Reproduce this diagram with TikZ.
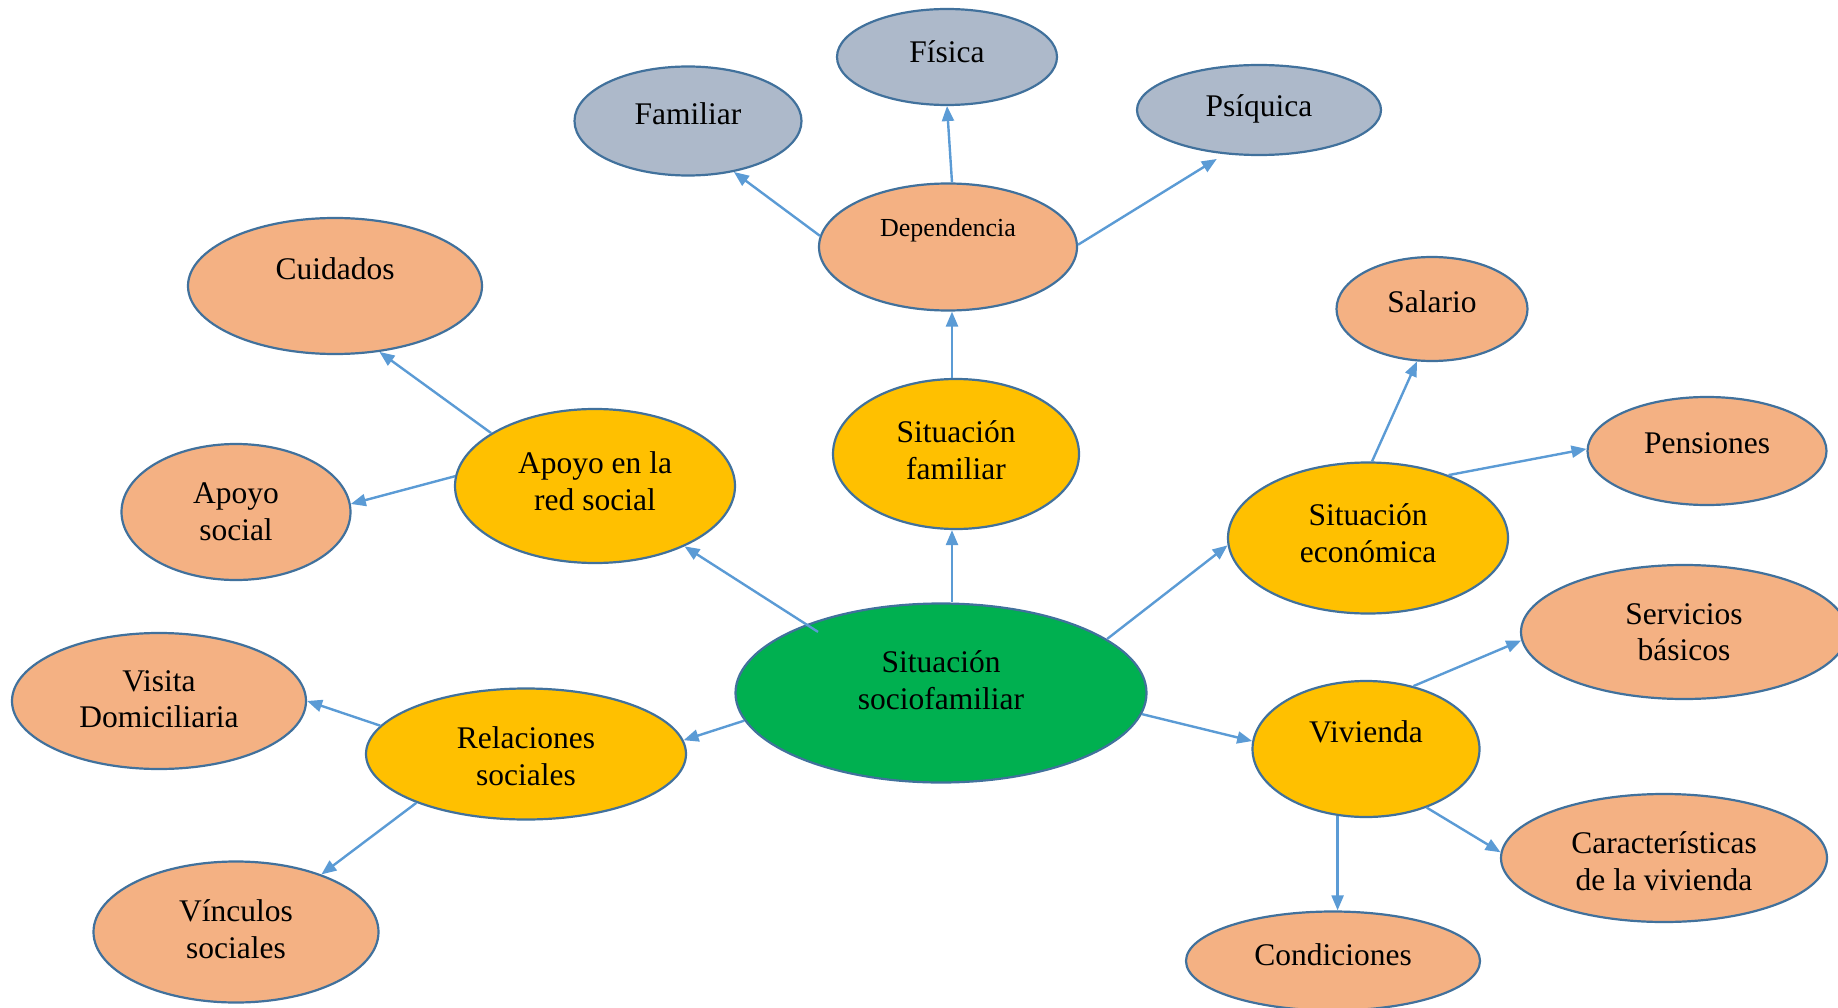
\documentclass[tikz,border=0pt]{standalone}
\usepackage{fontspec}
\setmainfont{Liberation Serif}
\usetikzlibrary{shapes.geometric,arrows.meta}

\definecolor{bordc}{HTML}{41719C}
\definecolor{arrc}{HTML}{5B9BD5}
\definecolor{peach}{HTML}{F4B183}
\definecolor{gold}{HTML}{FFC000}
\definecolor{leaf}{HTML}{00B050}
\definecolor{slate}{HTML}{ADB9CA}

\tikzset{
  bub/.style={ellipse, draw=bordc, line width=2.2pt, inner sep=0pt},
  peachbub/.style={bub, fill=peach},
  goldbub/.style={bub, fill=gold},
  slatebub/.style={bub, fill=slate},
  leafbub/.style={bub, fill=leaf},
  txt/.style={align=center, inner sep=0pt, font=\fontsize{31.5}{36.5}\selectfont},
  smalltxt/.style={align=center, inner sep=0pt, font=\fontsize{26}{30}\selectfont},
  arr/.style={draw=arrc, line width=2.4pt, -{Triangle[length=15pt,width=12pt]}}
}

\begin{document}
\begin{tikzpicture}[x=1pt,y=-1pt]
\clip (0,0) rectangle (1838,1008);
\useasboundingbox (0,0) rectangle (1838,1008);

% ellipses
\node[slatebub, minimum width=220pt, minimum height=96pt] (fis) at (947,57) {};
\node[slatebub, minimum width=227pt, minimum height=109pt] (fam) at (688,121) {};
\node[slatebub, minimum width=244pt, minimum height=90pt] (psi) at (1259,110) {};
\node[peachbub, minimum width=258pt, minimum height=127pt] (dep) at (948,247) {};
\node[peachbub, minimum width=294pt, minimum height=136pt] (cui) at (335,286) {};
\node[goldbub, minimum width=280pt, minimum height=154pt] (red) at (595,486) {};
\node[peachbub, minimum width=229pt, minimum height=136pt] (aps) at (236,512) {};
\node[goldbub, minimum width=246pt, minimum height=150pt] (sfa) at (956,454) {};
\node[peachbub, minimum width=191pt, minimum height=104pt] (sal) at (1432,309) {};
\node[peachbub, minimum width=239pt, minimum height=108pt] (pen) at (1707,451) {};
\node[goldbub, minimum width=280pt, minimum height=151pt] (eco) at (1368,538) {};
\node[peachbub, minimum width=326pt, minimum height=134pt] (ser) at (1684,632) {};
\node[goldbub, minimum width=227pt, minimum height=136pt] (viv) at (1366,749) {};
\node[peachbub, minimum width=326pt, minimum height=128pt] (car) at (1664,858) {};
\node[peachbub, minimum width=294pt, minimum height=99pt] (con) at (1333,961) {};
\node[leafbub, minimum width=411pt, minimum height=179pt] (soc) at (941,693) {};
\node[goldbub, minimum width=320pt, minimum height=131pt] (rel) at (526,754) {};
\node[peachbub, minimum width=294pt, minimum height=136pt] (vis) at (159,701) {};
\node[peachbub, minimum width=285pt, minimum height=141pt] (vin) at (236,932) {};

% labels
\node[txt] (fis-t) at ([yshift=5pt]fis.center) {Física};
\node[txt] (fam-t) at ([yshift=7pt]fam.center) {Familiar};
\node[txt] (psi-t) at ([yshift=1pt]psi.center) {Psíquica};
\node[smalltxt] (dep-t) at ([yshift=17pt]dep.center) {Dependencia};
\node[txt] (cui-t) at ([yshift=17pt]cui.center) {Cuidados};
\node[txt] (red-t) at ([yshift=5pt]red.center) {Apoyo en la\\red social};
\node[txt] (aps-t) at ([yshift=0pt]aps.center) {Apoyo\\social};
\node[txt] (sfa-t) at ([yshift=4pt]sfa.center) {Situación\\familiar};
\node[txt] (sal-t) at ([yshift=7pt]sal.center) {Salario};
\node[txt] (pen-t) at ([yshift=8pt]pen.center) {Pensiones};
\node[txt] (eco-t) at ([yshift=5pt]eco.center) {Situación\\económica};
\node[txt] (ser-t) at ([yshift=0pt]ser.center) {Servicios\\básicos};
\node[txt] (viv-t) at ([yshift=17pt]viv.center) {Vivienda};
\node[txt] (car-t) at ([yshift=-3pt]car.center) {Características\\de la vivienda};
\node[txt] (con-t) at ([yshift=6pt]con.center) {Condiciones};
\node[txt] (soc-t) at ([yshift=13pt]soc.center) {Situación\\sociofamiliar};
\node[txt] (rel-t) at ([yshift=-2pt]rel.center) {Relaciones\\sociales};
\node[txt] (vis-t) at ([yshift=2pt]vis.center) {Visita\\Domiciliaria};
\node[txt] (vin-t) at ([yshift=3pt]vin.center) {Vínculos\\sociales};

% common x of the vertical spine
\coordinate (spine) at ([xshift=4pt]dep.south);

% connectors from the centre
\draw[arr, shorten <=-14pt] (soc.153) -- (red.-34);
\draw[arr] (soc.north -| spine) -- (sfa.south -| spine);
\draw[arr] (soc.18) -- (eco.183);
\draw[arr] (soc.-6) -- (viv.176);
\draw[arr] (soc.188) -- (rel.5);

% family situation branch
\draw[arr] (sfa.north -| spine) -- (dep.south -| spine);
\draw[arr] (dep.175) -- (fam.-48);
\draw[arr] (dep.north -| spine) -- (fis.south);
\draw[arr, shorten >=9pt] (dep.1) -- (psi.-128);

% social network support branch
\draw[arr] (red.153) -- (cui.-56);
\draw[arr] (red.176) -- (aps.4);

% economic situation branch
\draw[arr] (eco.87) -- (sal.-106);
\draw[arr] (eco.38) -- (pen.179);

% housing branch
\draw[arr] (viv.53) -- (ser.183);
\draw[arr] (viv.-44) -- (car.178);
\draw[arr] (viv.-113) -- (viv.-113 |- con.north);

% social relations branch
\draw[arr] (rel.169) -- (vis.east);
\draw[arr] (rel.204) -- (vin.34);
\end{tikzpicture}
\end{document}
